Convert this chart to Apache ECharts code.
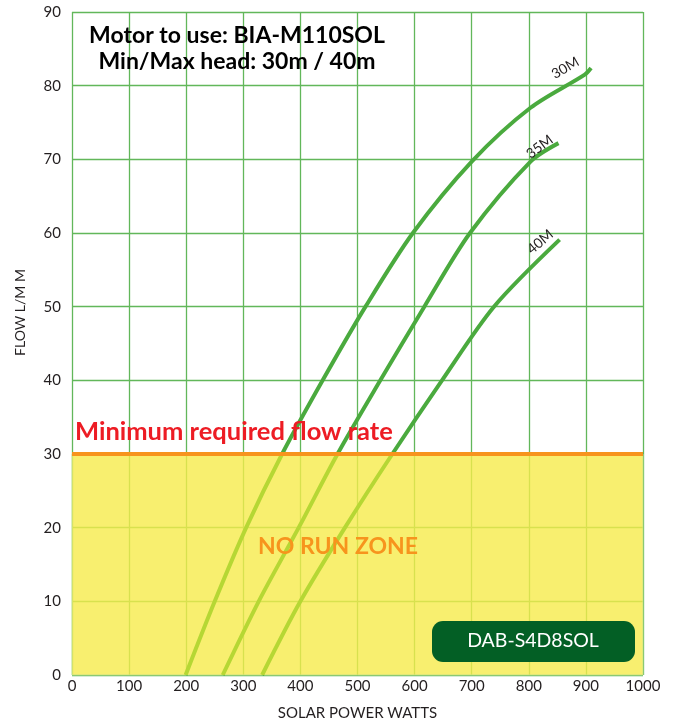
<html>
<head>
<meta charset="utf-8">
<script src="https://cdn.jsdelivr.net/npm/echarts@6/dist/echarts.min.js"></script>
</head>
<body style="margin:0">
<div id="main" style="width:676px;height:724px"></div>
<script>
// pump curves: [watts, flow l/min]
var curve30 = [[199, 0], [250, 10], [305, 20], [368, 30], [439, 40], [514, 50], [597, 60], [700, 69.7], [803, 77], [898, 81.5], [909, 82.4]];
var curve35 = [[264, 0], [327, 10], [397, 20], [465, 30], [540, 40], [617, 50], [697, 60], [803, 69.7], [852, 72.2]];
var curve40 = [[333, 0], [400, 10], [478, 20], [561, 30], [648, 40], [739, 50], [854, 59.1]];
var curveNames = ['30M', '35M', '40M'];
var curveLabelAt = [[864, 82.4], [819, 71.7], [820, 58.8]];
var minFlow = 30;
var xMax = 1000, yMax = 90;

var myChart = echarts.init(document.getElementById('main'));
var font = 'Lato, "Open Sans", sans-serif';
var labelRot = [30, 37, 40];

function curveSeries(data, i) {
    return {
        type: 'line',
        name: curveNames[i],
        data: data,
        smooth: 0.3,
        showSymbol: false,
        z: 3,
        lineStyle: { width: 4 },
        markPoint: {
            symbol: 'circle',
            symbolSize: 0,
            silent: true,
            data: [{ coord: curveLabelAt[i], name: curveNames[i] }],
            label: {
                show: true,
                position: 'inside',
                formatter: '{b}',
                rotate: labelRot[i],
                color: '#231f20',
                fontFamily: font,
                fontSize: 14
            }
        }
    };
}

var option = {
    animation: false,
    backgroundColor: '#fff',
    grid: { left: 72, right: 33, top: 12, bottom: 49, outerBoundsMode: 'none' },
    xAxis: {
        type: 'value', min: 0, max: xMax, interval: 100,
        name: 'SOLAR POWER WATTS', nameLocation: 'middle', nameGap: 31,
        nameTextStyle: { color: '#231f20', fontFamily: font, fontSize: 15 },
        axisLine: { show: false }, axisTick: { show: false },
        axisLabel: {
            color: '#231f20', fontFamily: font, fontSize: 15, margin: 4,
            formatter: function (v) { return String(v); }
        },
        splitLine: { show: true, lineStyle: { color: '#62b75a', width: 1.3 } }
    },
    yAxis: {
        type: 'value', min: 0, max: yMax, interval: 10,
        name: 'FLOW L/M M', nameLocation: 'middle', nameGap: 45,
        nameTextStyle: { color: '#231f20', fontFamily: font, fontSize: 14, padding: [0, 0, 0, 62] },
        axisLine: { show: false }, axisTick: { show: false },
        axisLabel: { color: '#231f20', fontFamily: font, fontSize: 15, margin: 11 },
        splitLine: { show: true, lineStyle: { color: '#62b75a', width: 1.3 } }
    },
    visualMap: {
        show: false,
        type: 'piecewise',
        dimension: 1,
        seriesIndex: [1, 2, 3],
        pieces: [
            { gte: 0, lt: minFlow, color: '#b6d734' },
            { gte: minFlow, lte: yMax, color: '#4aaa3e' }
        ],
        outOfRange: { color: '#4aaa3e' }
    },
    series: [
        {
            type: 'line',
            data: [],
            z: 1,
            silent: true,
            markArea: {
                silent: true,
                itemStyle: { color: '#f6eb4b', opacity: 0.8, borderColor: '#c9e39a', borderWidth: 1 },
                data: [[{ coord: [0, 0] }, { coord: [xMax, minFlow] }]]
            }
        },
        curveSeries(curve30, 0),
        curveSeries(curve35, 1),
        curveSeries(curve40, 2),
        {
            type: 'line',
            data: [],
            z: 4,
            silent: true,
            markLine: {
                silent: true,
                symbol: ['none', 'none'],
                label: { show: false },
                lineStyle: { color: '#f7941d', width: 4, type: 'solid' },
                data: [{ yAxis: minFlow }]
            }
        }
    ],
    graphic: [
        {
            type: 'text', x: 237, y: 49, z: 10,
            style: {
                text: 'Motor to use: BIA-M110SOL\nMin/Max head: 30m / 40m',
                font: 'bold 23px ' + font, fill: '#000', lineHeight: 26,
                align: 'center', verticalAlign: 'middle'
            }
        },
        {
            type: 'text', x: 75, y: 432, z: 10,
            style: {
                text: 'Minimum required flow rate',
                font: 'bold 25.5px ' + font, fill: '#ed1c24',
                align: 'left', verticalAlign: 'middle'
            }
        },
        {
            type: 'text', x: 338, y: 547, z: 10,
            style: {
                text: 'NO RUN ZONE',
                font: 'bold 23px ' + font, fill: '#f7941d',
                align: 'center', verticalAlign: 'middle'
            }
        },
        {
            type: 'rect', x: 432, y: 621, z: 10,
            shape: { width: 203, height: 41, r: 11 },
            style: { fill: '#035f25' }
        },
        {
            type: 'text', x: 533, y: 641, z: 11,
            style: {
                text: 'DAB-S4D8SOL',
                font: '19.5px ' + font, fill: '#fff',
                align: 'center', verticalAlign: 'middle'
            }
        }
    ]
};

myChart.setOption(option);
</script>
</body>
</html>
